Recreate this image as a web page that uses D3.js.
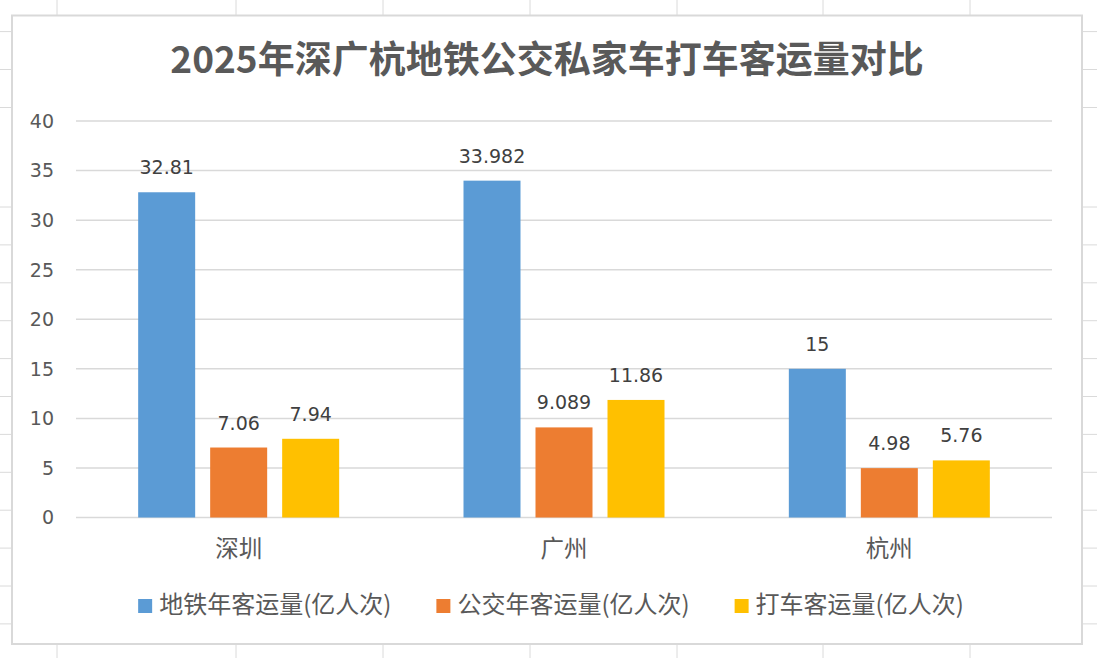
<!DOCTYPE html>
<html>
<head>
<meta charset="utf-8">
<script src="https://cdn.jsdelivr.net/npm/d3@7"></script>
<style>
  body { margin: 0; background: #fff; }
  svg { display: block; }
</style>
</head>
<body>
<div id="plot"></div>
<script>
// data
var cities = ["深圳", "广州", "杭州"];
var seriesNames = ["地铁年客运量(亿人次)", "公交年客运量(亿人次)", "打车客运量(亿人次)"];
var metroValues = [32.81, 33.982, 15];
var busValues = [7.06, 9.089, 4.98];
var taxiValues = [7.94, 11.86, 5.76];
var yTicks = [0, 5, 10, 15, 20, 25, 30, 35, 40];
var titleText = "2025年深广杭地铁公交私家车打车客运量对比";

var colors = ["#5b9bd5", "#ed7d31", "#ffc000"];

var width = 1097, height = 658;

// spreadsheet cells behind the chart
var sheetCols = [57, 236, 383, 530, 677, 823, 970];
var sheetRows = [31.6, 69.5, 107.5];
for (var r = 207; r < height; r += 37.9) sheetRows.push(r);

var svg = d3.select("#plot")
  .append("svg")
  .attr("width", width)
  .attr("height", height);

svg.selectAll(".col")
  .data(sheetCols)
  .join("line")
  .attr("x1", d => d).attr("x2", d => d)
  .attr("y1", 0).attr("y2", height)
  .style("stroke", "#dadada").style("stroke-width", 1);

svg.selectAll(".row")
  .data(sheetRows)
  .join("line")
  .attr("x1", 0).attr("x2", width)
  .attr("y1", d => d).attr("y2", d => d)
  .style("stroke", "#dadada").style("stroke-width", 1);

// chart frame
svg.append("rect")
  .attr("x", 12).attr("y", 15.5)
  .attr("width", 1070).attr("height", 628.5)
  .style("fill", "#fff")
  .style("stroke", "#d9d9d9")
  .style("stroke-width", 2);

svg.append("text")
  .attr("x", 547)
  .attr("y", 73)
  .attr("text-anchor", "middle")
  .style("font-family", "'Noto Sans CJK SC'")
  .style("font-weight", "bold")
  .style("font-size", "37px")
  .style("fill", "#595959")
  .text(titleText);

var plotLeft = 76, plotRight = 1052;

var y = d3.scaleLinear()
  .domain([0, 40])
  .range([517.5, 121]);

var x0 = d3.scaleBand()
  .domain(cities)
  .range([plotLeft, plotRight])
  .padding(0);

var groupWidth = 201;
var x1 = d3.scaleBand()
  .domain(d3.range(seriesNames.length))
  .range([-groupWidth / 2, groupWidth / 2])
  .paddingInner(15 / 72);

// gridlines
svg.selectAll(".grid")
  .data(yTicks)
  .join("line")
  .attr("x1", plotLeft).attr("x2", plotRight)
  .attr("y1", d => y(d)).attr("y2", d => y(d))
  .style("stroke", "#d9d9d9")
  .style("stroke-width", 1.5);

svg.selectAll(".ytick")
  .data(yTicks)
  .join("text")
  .attr("x", 54)
  .attr("y", d => y(d))
  .attr("dy", "0.36em")
  .attr("text-anchor", "end")
  .style("font-family", "'DejaVu Sans'")
  .style("font-size", "19px")
  .style("fill", "#595959")
  .text(d => d);

var allValues = [metroValues, busValues, taxiValues];
var barData = [];
cities.forEach(function(c, i) {
  allValues.forEach(function(vals, s) {
    barData.push({city: c, s: s, value: vals[i]});
  });
});

svg.selectAll(".bar")
  .data(barData)
  .join("rect")
  .attr("x", d => x0(d.city) + x0.bandwidth() / 2 + x1(d.s))
  .attr("width", x1.bandwidth())
  .attr("y", d => y(d.value))
  .attr("height", d => y(0) - y(d.value))
  .style("fill", d => colors[d.s]);

svg.selectAll(".val")
  .data(barData)
  .join("text")
  .attr("x", d => x0(d.city) + x0.bandwidth() / 2 + x1(d.s) + x1.bandwidth() / 2)
  .attr("y", d => y(d.value) - 18)
  .attr("text-anchor", "middle")
  .style("font-family", "'DejaVu Sans'")
  .style("font-size", "19px")
  .style("fill", "#404040")
  .text(d => d.value);

svg.selectAll(".cat")
  .data(cities)
  .join("text")
  .attr("x", d => x0(d) + x0.bandwidth() / 2)
  .attr("y", 557)
  .attr("text-anchor", "middle")
  .style("font-family", "'Noto Sans CJK SC'")
  .style("font-size", "23.5px")
  .style("fill", "#595959")
  .text(d => d);

// legend, laid out from measured text widths
var legend = svg.append("g");
var items = legend.selectAll(".leg")
  .data(seriesNames)
  .join("g");

items.append("rect")
  .attr("width", 14).attr("height", 14)
  .attr("y", 599)
  .style("fill", (d, i) => colors[i]);

items.append("text")
  .attr("x", 21)
  .attr("y", 612.5)
  .style("font-family", "'Noto Sans CJK SC'")
  .style("font-size", "24px")
  .style("fill", "#595959")
  .text(d => d);

var widths = [];
items.select("text").each(function() { widths.push(21 + this.getComputedTextLength()); });
var gap = 45;
var total = d3.sum(widths) + gap * (widths.length - 1);
var start = 551 - total / 2;
var offs = [];
widths.reduce(function(acc, w) { offs.push(acc); return acc + w + gap; }, start);
items.attr("transform", (d, i) => `translate(${offs[i]},0)`);
</script>
</body>
</html>
